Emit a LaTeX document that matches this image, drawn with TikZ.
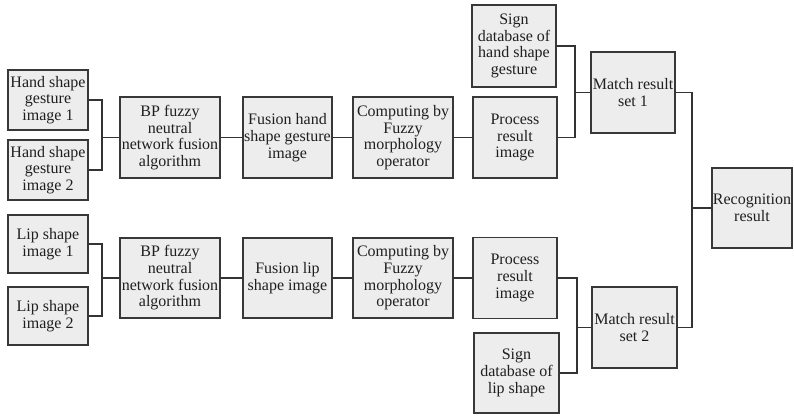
\documentclass[tikz,border=0pt]{standalone}
\usepackage{fontspec}
\setmainfont{Liberation Serif}
\begin{document}
\begin{tikzpicture}[x=1pt,y=-1pt,
  blk/.style={draw=black!78, fill=black!7, line width=1.3pt, inner sep=0pt,
    align=center, text=black!88, font=\fontsize{16}{16.7}\selectfont},
  wire/.style={draw=black!80, line width=1.2pt}]
\useasboundingbox (0,0) rectangle (794,416);
% upper branch: hand shape gestures
\node[blk, minimum width=80pt, minimum height=60pt] (h1) at (48,100) {Hand shape\\gesture\\image 1};
\node[blk, minimum width=80pt, minimum height=60pt] (h2) at (48,170) {Hand shape\\gesture\\image 2};
\node[blk, minimum width=100pt, minimum height=81pt] (bp1) at (170,137.5) {BP fuzzy\\neutral\\network fusion\\algorithm};
\node[blk, minimum width=89pt, minimum height=81pt] (fu1) at (287.5,137.5) {Fusion hand\\shape gesture\\image};
\node[blk, minimum width=100pt, minimum height=81pt] (co1) at (403,137.5) {Computing by\\Fuzzy\\morphology\\operator};
\node[blk, minimum width=84pt, minimum height=81pt] (pr1) at (515,137.5) {Process\\result\\image};
\node[blk, minimum width=84pt, minimum height=82pt] (sd1) at (514,46) {Sign\\database of\\hand shape\\gesture};
\node[blk, minimum width=84pt, minimum height=81pt] (m1) at (633,92.5) {Match result\\set 1};
% final result
\node[blk, minimum width=80pt, minimum height=80pt] (rec) at (752,208) {Recognition\\result};
% lower branch: lip shapes
\node[blk, minimum width=80pt, minimum height=58pt] (l1) at (48,244) {Lip shape\\image 1};
\node[blk, minimum width=80pt, minimum height=58pt] (l2) at (48,316) {Lip shape\\image 2};
\node[blk, minimum width=100pt, minimum height=80pt] (bp2) at (170,278) {BP fuzzy\\neutral\\network fusion\\algorithm};
\node[blk, minimum width=89pt, minimum height=80pt] (fu2) at (287.5,278) {Fusion lip\\shape image};
\node[blk, minimum width=100pt, minimum height=80pt] (co2) at (403,278) {Computing by\\Fuzzy\\morphology\\operator};
\node[blk, minimum width=84pt, minimum height=81pt] (pr2) at (515,278) {Process\\result\\image};
\node[blk, minimum width=85pt, minimum height=80pt] (sd2) at (516.5,373) {Sign\\database of\\lip shape};
\node[blk, minimum width=85pt, minimum height=81pt] (m2) at (634.5,327.5) {Match result\\set 2};
% junction points
\coordinate (jh) at (102,137.5);
\coordinate (jl) at (102,278);
\coordinate (jm1) at (575,92.5);
\coordinate (jm2) at (577,327.5);
\coordinate (jr) at (692,208);
% connectors
\draw[wire] (h1.east) -| (jh) |- (h2.east);
\draw[wire] (jh) -- (bp1.west);
\draw[wire] (bp1) -- (fu1);
\draw[wire] (fu1) -- (co1);
\draw[wire] (co1) -- (pr1);
\draw[wire] (sd1.east) -| (jm1) |- (pr1.east);
\draw[wire] (jm1) -- (m1.west);
\draw[wire] (l1.east) -| (jl) |- (l2.east);
\draw[wire] (jl) -- (bp2.west);
\draw[wire] (bp2) -- (fu2);
\draw[wire] (fu2) -- (co2);
\draw[wire] (co2) -- (pr2);
\draw[wire] (pr2.east) -| (jm2) |- (sd2.east);
\draw[wire] (jm2) -- (m2.west);
\draw[wire] (m1.east) -| (jr) |- (m2.east);
\draw[wire] (jr) -- (rec.west);
\end{tikzpicture}
\end{document}
